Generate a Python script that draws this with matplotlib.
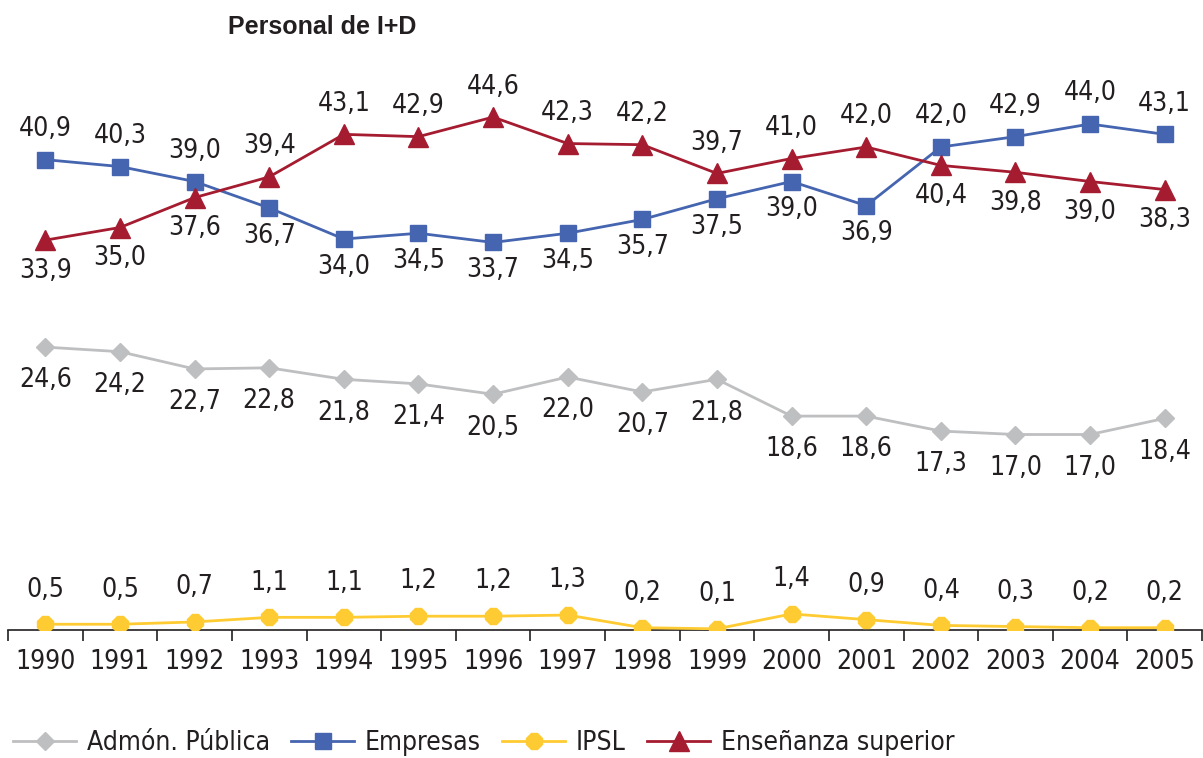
import numpy as np
import matplotlib.pyplot as plt

plt.rcParams['font.family'] = ['DejaVu Sans']
plt.rcParams['font.stretch'] = 'condensed'

# datos
years = ['1990', '1991', '1992', '1993', '1994', '1995', '1996', '1997',
         '1998', '1999', '2000', '2001', '2002', '2003', '2004', '2005']
admon = [24.6, 24.2, 22.7, 22.8, 21.8, 21.4, 20.5, 22.0,
         20.7, 21.8, 18.6, 18.6, 17.3, 17.0, 17.0, 18.4]
empresas = [40.9, 40.3, 39.0, 36.7, 34.0, 34.5, 33.7, 34.5,
            35.7, 37.5, 39.0, 36.9, 42.0, 42.9, 44.0, 43.1]
ipsl = [0.5, 0.5, 0.7, 1.1, 1.1, 1.2, 1.2, 1.3,
        0.2, 0.1, 1.4, 0.9, 0.4, 0.3, 0.2, 0.2]
ensenanza = [33.9, 35.0, 37.6, 39.4, 43.1, 42.9, 44.6, 42.3,
             42.2, 39.7, 41.0, 42.0, 40.4, 39.8, 39.0, 38.3]

# posicion de las etiquetas: 1 arriba, -1 abajo
emp_pos = [1, 1, 1, -1, -1, -1, -1, -1, -1, -1, -1, -1, 1, 1, 1, 1]
ens_pos = [-1, -1, -1, 1, 1, 1, 1, 1, 1, 1, 1, 1, -1, -1, -1, -1]

c_gris = '#BEBFC1'
c_azul = '#4565B0'
c_amar = '#FFCB32'
c_rojo = '#A51C30'

fig = plt.figure(figsize=(12.03, 7.58), dpi=100)
ax = fig.add_axes([8 / 1203, 128 / 758, 1194 / 1203, 552 / 758])

x = np.arange(len(years))
lw = 2.0
ax.plot(x, admon, color=c_gris, lw=lw, marker='D', ms=9, label='Admón. Pública', zorder=3)
ax.plot(x, empresas, color=c_azul, lw=lw, marker='s', ms=12, label='Empresas', zorder=4)
ax.plot(x, ipsl, color=c_amar, lw=lw, marker='8', ms=13, label='IPSL', zorder=3)
ax.plot(x, ensenanza, color=c_rojo, lw=lw, marker='^', ms=14, label='Enseñanza superior', zorder=5)

fs = 19


def etiq(v):
    return f'{v:.1f}'.replace('.', ',')


for i in range(len(years)):
    ax.annotate(etiq(admon[i]), (x[i], admon[i]), xytext=(0, -24), textcoords='offset points',
                ha='center', va='center', fontsize=fs, color='#231F20')
    ax.annotate(etiq(ipsl[i]), (x[i], ipsl[i]), xytext=(0, 25), textcoords='offset points',
                ha='center', va='center', fontsize=fs, color='#231F20')
    ax.annotate(etiq(empresas[i]), (x[i], empresas[i]), xytext=(0, 22 * emp_pos[i] + (2 if emp_pos[i] < 0 else 0)),
                textcoords='offset points', ha='center', va='center', fontsize=fs, color='#231F20')
    ax.annotate(etiq(ensenanza[i]), (x[i], ensenanza[i]), xytext=(0, 22 * ens_pos[i]),
                textcoords='offset points', ha='center', va='center', fontsize=fs, color='#231F20')

ax.set_xlim(-0.5, len(years) - 0.5)
ax.set_ylim(0, 48)
for s in ['top', 'right', 'left']:
    ax.spines[s].set_visible(False)
ax.spines['bottom'].set_color('#231F20')
ax.spines['bottom'].set_linewidth(1.2)
ax.set_yticks([])
ax.set_xticks(x)
ax.set_xticklabels(years, fontsize=fs, color='#231F20')
ax.set_xticks(np.arange(-0.5, len(years)), minor=True)
ax.tick_params(axis='x', which='major', length=0, pad=14)
ax.tick_params(axis='x', which='minor', length=8, width=1.2, color='#231F20')

fig.text(228 / 1203, 1 - 27 / 758, 'Personal de I+D', fontsize=18, fontweight='bold',
         family=['Liberation Sans', 'DejaVu Sans'], fontstretch='normal', color='#231F20', va='center')

fig.legend(loc='center left', bbox_to_anchor=(13 / 1203, 1 - 743 / 758), ncol=4, frameon=False,
           fontsize=fs, handlelength=2.4, handletextpad=0.4, columnspacing=0.8,
           borderaxespad=0, borderpad=0, labelcolor='#231F20')

plt.savefig('out.png', dpi=100)
